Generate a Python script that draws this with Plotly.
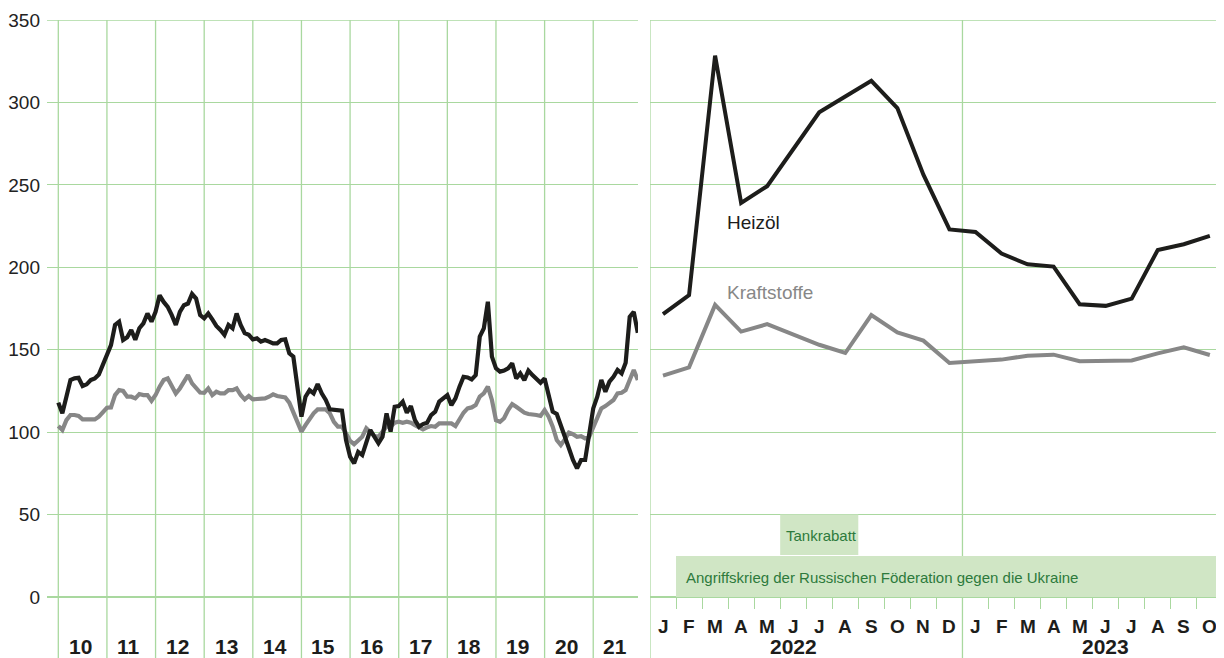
import plotly.graph_objects as go

# the page body has an 8px margin; the figure is placed after it
OFF = 8
FW, FH = 1224, 650

# ---------------- data ----------------
years_left = list(range(2010, 2022))
year_labels_left = ["10", "11", "12", "13", "14", "15", "16", "17", "18", "19", "20", "21"]

heizoel_2010_2013 = [117.9, 111.4, 121.5, 131.6, 132.6, 133, 128, 129, 131.6, 132.6, 135, 140.7,
                     147.8, 152.8, 165, 167, 155.9, 157.5, 162, 156, 163, 166, 172, 167,
                     173, 183, 179, 176, 171, 165, 173, 177, 178, 183.8, 181, 171,
                     169, 172, 168.4, 164.4, 162, 159, 165, 163, 172, 165, 160, 159]
heizoel_2014_2017 = [156.3, 156.9, 154.9, 155.9, 154.9, 153.8, 153.8, 155.9, 156.3, 147.8, 145.8, 125.5,
                     109.4, 121.5, 125.5, 123.5, 129.2, 123.5, 119.5, 113.8, 113.4, 113, 113, 95.2,
                     85.1, 81.1, 88, 86.1, 93.2, 101.3, 97.2, 93.2, 97.2, 111.4, 100.3, 115.4,
                     115.8, 118.5, 111.8, 115.8, 107.3, 103.3, 104.9, 105.7, 110.4, 112.4, 118.5, 120.5]
heizoel_2018_2021 = [122.5, 116.4, 120.5, 127.6, 133.6, 133.2, 132, 134.6, 157.9, 162.9, 179.1, 145.8,
                     138.7, 136.7, 137.3, 138.7, 141.7, 132.6, 135.6, 131.6, 137.3, 134.6, 132.6, 130,
                     132.6, 122.5, 112.4, 111, 103.3, 97.2, 90.2, 83.1, 78, 83.1, 83.1, 97.2,
                     114.4, 121.5, 131.6, 124.5, 130.6, 133.6, 137.7, 135.6, 142.1, 170, 173, 160.3]

kraft_2010_2013 = [103.7, 101.3, 107.3, 110.4, 110.4, 109.8, 107.7, 107.7, 107.7, 107.7, 109.4, 112.4,
                   114.8, 115, 122.5, 125.5, 125, 121.5, 121.5, 120.5, 123.1, 122.5, 122.5, 119,
                   122.5, 127.6, 131.6, 132.6, 127.6, 123.5, 126.5, 130.6, 134.6, 129.6, 126.5, 124,
                   123.8, 126.5, 122.5, 124.5, 123.5, 123.5, 125.5, 125.5, 126.5, 122.5, 119.9, 121.9]
kraft_2014_2017 = [119.9, 119.9, 119.9, 120.5, 121.5, 122.9, 121.9, 121.5, 121.1, 117.9, 112.4, 106.3,
                   100.3, 104.3, 108.4, 111.4, 113.8, 113.8, 113.8, 111.4, 106.3, 103.3, 103.3, 99.3,
                   94.7, 92.7, 94.7, 97.2, 102.3, 100.3, 97.6, 97.2, 100.3, 103.3, 103.3, 105.7,
                   106.3, 105.7, 106.3, 105.7, 104.3, 102.9, 101.7, 102.9, 103.7, 103.3, 105.3, 105.3]
kraft_2018_2021 = [105.3, 105.3, 103.7, 107.7, 111.8, 114.4, 115, 116.4, 121.5, 123.5, 127.6, 119.5,
                   107.3, 106.3, 108.4, 113.4, 117, 115.4, 113.4, 111.8, 111, 111, 110.4, 109.8,
                   113.4, 109.4, 103.3, 95.2, 92.2, 95.6, 99.7, 98.8, 97.2, 97.6, 96.2, 97.2,
                   103.3, 109.4, 114.4, 115.8, 117.4, 119.5, 123.5, 123.9, 125.5, 131.6, 137.7, 131.6]

month_letters = ["J", "F", "M", "A", "M", "J", "J", "A", "S", "O", "N", "D",
                 "J", "F", "M", "A", "M", "J", "J", "A", "S", "O"]
heizoel_2022_2023 = [171.6, 183.1, 328.4, 239.1, 249.2, 272, 294, 303.6, 313.1, 296.6, 256.2, 223,
                     221.4, 208.3, 201.8, 200.4, 177.6, 176.6, 181, 210.5, 214, 219]
kraft_2022_2023 = [134.3, 139.3, 177.2, 161, 165.5, 159, 153, 148, 171, 160.5, 155.5, 142,
                   143.3, 144, 146.4, 147, 143, 143.3, 143.5, 147.8, 151.4, 146.8]
year_labels_right = ["2022", "2023"]
y_ticks = [0, 50, 100, 150, 200, 250, 300, 350]

# ---------------- styles ----------------
GRID = "#a9d89f"
BOX = "#d0e6c5"
GREEN_TXT = "#2d7a3c"
BLACK = "#1d1d1b"
GREY = "#878787"
FONT = "Liberation Sans, Arial, sans-serif"


def px_x(s):
    """screen x pixel -> paper fraction"""
    return (s - OFF) / FW


def px_y(s):
    """screen y pixel -> paper fraction"""
    return 1 - (s - OFF) / FH


heizoel_left = heizoel_2010_2013 + heizoel_2014_2017 + heizoel_2018_2021
kraft_left = kraft_2010_2013 + kraft_2014_2017 + kraft_2018_2021
x_left = [2010 + i / 12 for i in range(len(heizoel_left))]
x_right = list(range(len(heizoel_2022_2023)))

fig = go.Figure()
fig.add_trace(go.Scatter(x=x_left, y=kraft_left, mode="lines", xaxis="x", yaxis="y",
                         line=dict(color=GREY, width=4.2), hoverinfo="skip", showlegend=False))
fig.add_trace(go.Scatter(x=x_left, y=heizoel_left, mode="lines", xaxis="x", yaxis="y",
                         line=dict(color=BLACK, width=4.2), hoverinfo="skip", showlegend=False))
fig.add_trace(go.Scatter(x=x_right, y=kraft_2022_2023, mode="lines", xaxis="x2", yaxis="y2",
                         line=dict(color=GREY, width=4), hoverinfo="skip", showlegend=False))
fig.add_trace(go.Scatter(x=x_right, y=heizoel_2022_2023, mode="lines", xaxis="x2", yaxis="y2",
                         line=dict(color=BLACK, width=4), hoverinfo="skip", showlegend=False))

# axis geometry (screen pixels)
ppy = 48.63          # pixels per year, left panel
x2010 = 58.3
left_px0, left_px1 = 47, 638
ppm = 26.04          # pixels per month, right panel
xjan22 = 663.0
right_px0, right_px1 = 650, 1226
ydom = [px_y(597), px_y(20)]

fig.update_layout(
    width=FW, height=FH, autosize=False,
    margin=dict(l=0, r=0, t=0, b=0, pad=0),
    paper_bgcolor="white", plot_bgcolor="rgba(0,0,0,0)",
    font=dict(family=FONT, color="#222222"),
    xaxis=dict(domain=[px_x(left_px0), px_x(left_px1)],
               range=[2010 - (x2010 - left_px0) / ppy, 2010 + (left_px1 - x2010) / ppy],
               showgrid=False, zeroline=False, showticklabels=False, ticks="", showline=False,
               anchor="y", fixedrange=True, automargin=False),
    yaxis=dict(domain=ydom, range=[0, 350], tickvals=y_ticks, showgrid=True, gridcolor=GRID,
               gridwidth=1.3, zeroline=True, zerolinecolor=GRID, zerolinewidth=2.2,
               ticks="", ticklabelstandoff=6, tickfont=dict(size=19, color="#222222", family=FONT),
               showline=False, anchor="x", fixedrange=True, automargin=False),
    xaxis2=dict(domain=[px_x(right_px0), px_x(right_px1)],
                range=[(right_px0 - xjan22) / ppm, (right_px1 - xjan22) / ppm],
                tickvals=[i + 0.5 for i in range(22)], ticks="outside", ticklen=11,
                tickcolor=GRID, tickwidth=1.3, showticklabels=False, showgrid=False,
                zeroline=False, showline=False, anchor="y2", fixedrange=True, automargin=False),
    yaxis2=dict(domain=ydom, range=[0, 350], tickvals=y_ticks, showgrid=True, gridcolor=GRID,
                gridwidth=1.3, zeroline=True, zerolinecolor=GRID, zerolinewidth=2.2,
                showticklabels=False, ticks="", showline=False, anchor="x2", fixedrange=True,
                automargin=False),
)

shapes = []
for yr in years_left:
    shapes.append(dict(type="line", xref="x", yref="paper", x0=yr, x1=yr, y0=0, y1=px_y(20),
                       line=dict(color=GRID, width=1.3), layer="below"))
for xv in [-0.5, 11.5]:
    shapes.append(dict(type="line", xref="x2", yref="paper", x0=xv, x1=xv, y0=0, y1=px_y(20),
                       line=dict(color=GRID, width=1.3), layer="below"))
# top gridline at 350 (range edge) for both panels
for xr, yr_ in [("x domain", "y"), ("x2 domain", "y2")]:
    shapes.append(dict(type="line", xref=xr, yref=yr_, x0=0, x1=1, y0=350, y1=350,
                       line=dict(color=GRID, width=1.3), layer="below"))
# event bars
shapes.append(dict(type="rect", xref="x2", yref="y2", x0=0.5, x1=21.7, y0=0, y1=24.8,
                   fillcolor=BOX, line=dict(width=0), layer="between"))
shapes.append(dict(type="rect", xref="x2", yref="y2", x0=4.5, x1=7.5, y0=25.5, y1=50,
                   fillcolor=BOX, line=dict(width=0), layer="between"))
fig.update_layout(shapes=shapes)

ann = []
for yr, lab in zip(years_left, year_labels_left):
    ann.append(dict(x=yr + 0.45, y=px_y(646), xref="x", yref="paper", text=lab, showarrow=False,
                    xanchor="center", yanchor="middle",
                    font=dict(size=21, color="#1d1d1b", family=FONT, weight="bold")))
for i, m in enumerate(month_letters):
    ann.append(dict(x=i, y=px_y(626), xref="x2", yref="paper", text=m, showarrow=False,
                    xanchor="center", yanchor="middle",
                    font=dict(size=19, color="#1d1d1b", family=FONT, weight="bold")))
for xc, lab in zip([5, 17], year_labels_right):
    ann.append(dict(x=xc, y=px_y(646), xref="x2", yref="paper", text=lab, showarrow=False,
                    xanchor="center", yanchor="middle",
                    font=dict(size=21, color="#1d1d1b", family=FONT, weight="bold")))
ann.append(dict(x=2.37, y=227, xref="x2", yref="y2", text="Heizöl", showarrow=False,
                xanchor="left", yanchor="middle", font=dict(size=19, color="#1d1d1b", family=FONT)))
ann.append(dict(x=2.37, y=185, xref="x2", yref="y2", text="Kraftstoffe", showarrow=False,
                xanchor="left", yanchor="middle", font=dict(size=19, color=GREY, family=FONT)))
ann.append(dict(x=4.66, y=37.6, xref="x2", yref="y2", text="Tankrabatt", showarrow=False,
                xanchor="left", yanchor="middle", font=dict(size=15, color=GREEN_TXT, family=FONT)))
ann.append(dict(x=0.79, y=12, xref="x2", yref="y2",
                text="Angriffskrieg der Russischen Föderation gegen die Ukraine", showarrow=False,
                xanchor="left", yanchor="middle", font=dict(size=15, color=GREEN_TXT, family=FONT)))
fig.update_layout(annotations=ann)

fig.write_html("out.html")
